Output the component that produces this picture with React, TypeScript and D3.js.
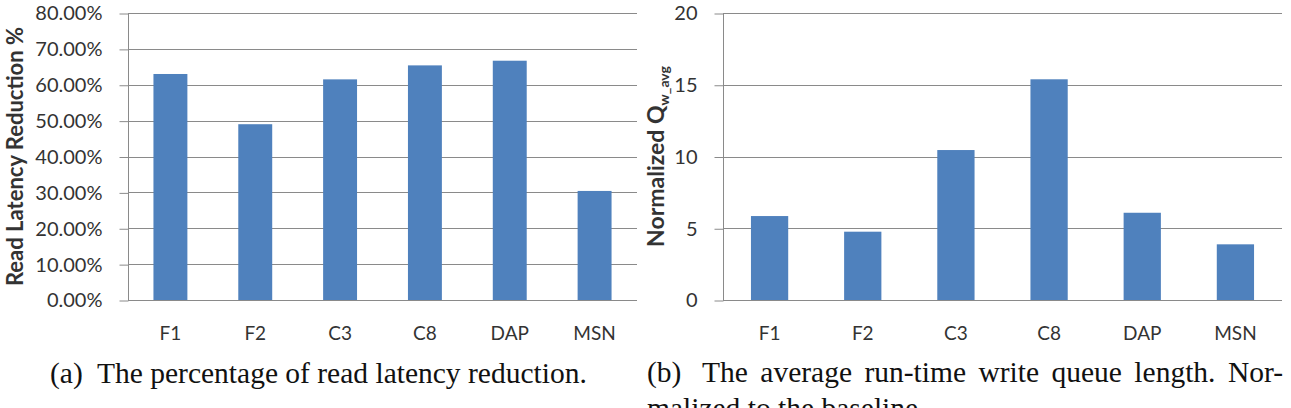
import React, { useEffect, useRef } from 'react'
import * as d3 from 'd3'

const categories = ['F1', 'F2', 'C3', 'C8', 'DAP', 'MSN']
// (a) read latency reduction, percent
const latencyReduction = [63.0, 49.0, 61.5, 65.4, 66.7, 30.4]
const latencyTicks = [0, 10, 20, 30, 40, 50, 60, 70, 80]
// (b) normalized average write queue length
const queueLength = [5.85, 4.76, 10.45, 15.38, 6.08, 3.88]
const queueTicks = [0, 5, 10, 15, 20]

const captionA = ['(a)', 'The percentage of read latency reduction.']
const captionB = ['(b)', 'The average run-time write queue length. Nor-', 'malized to the baseline.']

const barColor = '#4f81bd'
const gridColor = '#8a8a8a'
const textColor = '#333'
const labelFont = 'Lato, "Open Sans", sans-serif'
const captionFont = '"Liberation Serif", "Times New Roman", serif'

function drawPanel(svg, opts) {
  const { values, ticks, fmt, left, right, top, bottom } = opts
  const g = svg.append('g')
  const x = d3
    .scaleBand()
    .domain(categories)
    .range([left, right])
    .paddingInner(0.6)
    .paddingOuter(0.3)
  const y = d3
    .scaleLinear()
    .domain([0, ticks[ticks.length - 1]])
    .range([bottom, top])

  // gridlines
  g.append('g')
    .selectAll('line')
    .data(ticks)
    .join('line')
    .attr('x1', left)
    .attr('x2', right)
    .attr('y1', (d) => Math.round(y(d)) + 0.5)
    .attr('y2', (d) => Math.round(y(d)) + 0.5)
    .attr('stroke', gridColor)
    .attr('stroke-width', 1)

  // vertical axis line
  g.append('line')
    .attr('x1', left + 0.5)
    .attr('x2', left + 0.5)
    .attr('y1', Math.round(top) + 0.5)
    .attr('y2', Math.round(bottom) + 0.5)
    .attr('stroke', gridColor)

  // bars
  g.append('g')
    .selectAll('rect')
    .data(values)
    .join('rect')
    .attr('x', (d, i) => x(categories[i]))
    .attr('width', x.bandwidth())
    .attr('y', (d) => y(d))
    .attr('height', (d) => y(0) - y(d))
    .attr('fill', barColor)

  // y axis ticks + labels
  const ya = g
    .append('g')
    .attr('transform', `translate(${left + 0.5},0.5)`)
    .call(d3.axisLeft(y).tickValues(ticks).tickSize(9).tickPadding(17).tickFormat(fmt))
  ya.select('.domain').remove()
  ya.selectAll('.tick line').attr('stroke', gridColor)
  ya.selectAll('.tick text')
    .attr('fill', textColor)
    .attr('font-family', labelFont)
    .attr('font-size', 20)

  // x axis labels
  const xa = g
    .append('g')
    .attr('transform', `translate(0,${bottom})`)
    .call(d3.axisBottom(x).tickSize(0).tickPadding(27))
  xa.select('.domain').remove()
  xa.selectAll('.tick text')
    .attr('fill', textColor)
    .attr('font-family', labelFont)
    .attr('font-size', 19)

  // axis title
  const t = g
    .append('text')
    .attr('transform', `translate(${opts.titleX},${(top + bottom) / 2}) rotate(-90)`)
    .attr('text-anchor', 'middle')
    .attr('font-family', labelFont)
    .attr('font-weight', 'bold')
    .attr('font-size', opts.titleSize)
    .attr('fill', textColor)
  t.append('tspan').text(opts.title)
  if (opts.sub) {
    t.append('tspan')
      .attr('font-size', 14)
      .attr('dy', 5)
      .text(opts.sub)
  }
}

export default function App() {
  const ref = useRef(null)

  useEffect(() => {
    const svg = d3.select(ref.current)
    svg.selectAll('*').remove()

    drawPanel(svg, {
      values: latencyReduction,
      ticks: latencyTicks,
      fmt: (d) => d.toFixed(2) + '%',
      left: 128,
      right: 637,
      top: 13,
      bottom: 300,
      titleX: 23,
      titleSize: 22,
      title: 'Read Latency Reduction %',
    })
    drawPanel(svg, {
      values: queueLength,
      ticks: queueTicks,
      fmt: (d) => String(d),
      left: 723,
      right: 1282,
      top: 13,
      bottom: 300,
      titleX: 664,
      titleSize: 23,
      title: 'Normalized Q',
      sub: 'w_avg',
    })

    // captions
    const cap = svg
      .append('g')
      .attr('font-family', captionFont)
      .attr('font-size', 29.5)
      .attr('fill', '#111')
    cap.append('text').attr('x', 50).attr('y', 383).text(captionA[0])
    cap.append('text').attr('x', 97).attr('y', 383).text(captionA[1])
    cap.append('text').attr('x', 647).attr('y', 382).text(captionB[0])
    const line1 = cap.append('text').attr('x', 702).attr('y', 382).text(captionB[1])
    // justify the first line of caption (b)
    const natural = line1.node().getComputedTextLength()
    const gaps = captionB[1].split(' ').length - 1
    line1.attr('word-spacing', (1283 - 702 - natural) / gaps)
    cap.append('text').attr('x', 647).attr('y', 418).text(captionB[2])
  }, [])

  return (
    <div style={{ position: 'absolute', left: 0, top: 0 }}>
      <svg ref={ref} width={1291} height={408} style={{ display: 'block', background: '#fff' }} />
    </div>
  )
}
